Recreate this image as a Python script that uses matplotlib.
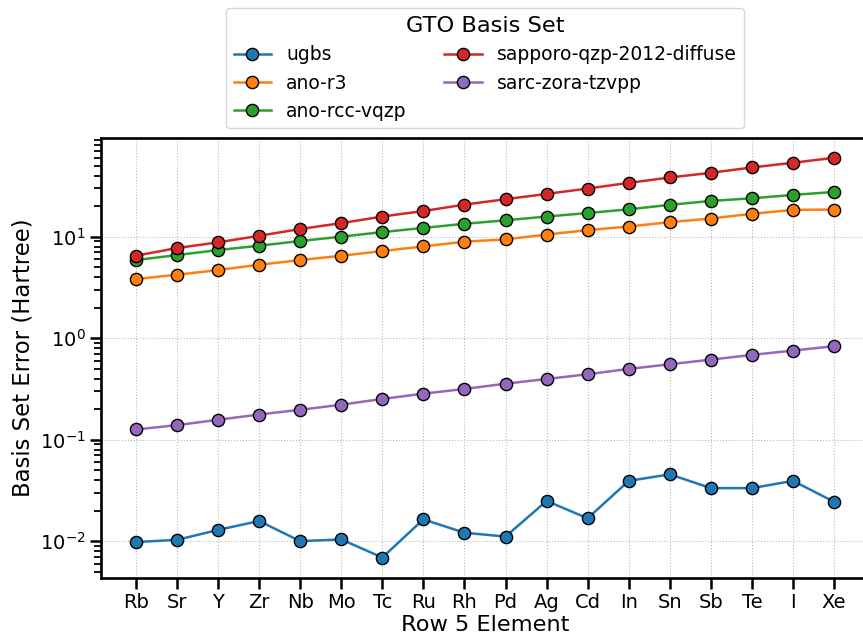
import numpy as np
import matplotlib
matplotlib.use("Agg")
import matplotlib.pyplot as plt

# ── data ──────────────────────────────────────────────────────
elements = ["Rb", "Sr", "Y", "Zr", "Nb", "Mo", "Tc", "Ru", "Rh",
            "Pd", "Ag", "Cd", "In", "Sn", "Sb", "Te", "I", "Xe"]

ugbs = [0.0098, 0.0103, 0.0129, 0.0158, 0.0100, 0.0104, 0.0069, 0.0164, 0.0121,
        0.0111, 0.0249, 0.0168, 0.0393, 0.0455, 0.0333, 0.0333, 0.0393, 0.0244]
ano_r3 = [3.82, 4.22, 4.69, 5.29, 5.88, 6.49, 7.22, 8.02, 8.93,
          9.41, 10.5, 11.6, 12.6, 13.9, 15.1, 16.8, 18.4, 18.5]
ano_rcc_vqzp = [5.88, 6.59, 7.38, 8.15, 9.06, 10.0, 11.1, 12.2, 13.4,
                14.5, 15.8, 17.1, 18.6, 20.6, 22.5, 23.9, 25.8, 27.6]
sapporo = [6.49, 7.73, 8.80, 10.2, 11.9, 13.6, 15.8, 17.9, 20.7,
           23.4, 26.4, 29.8, 33.9, 38.3, 42.6, 48.1, 53.5, 59.9]
sarc_zora = [0.126, 0.139, 0.157, 0.177, 0.197, 0.221, 0.252, 0.284, 0.316,
             0.356, 0.396, 0.441, 0.498, 0.553, 0.615, 0.684, 0.755, 0.834]

series_names = ["ugbs", "ano-r3", "ano-rcc-vqzp",
                "sapporo-qzp-2012-diffuse", "sarc-zora-tzvpp"]
series_vals = [ugbs, ano_r3, ano_rcc_vqzp, sapporo, sarc_zora]
colors = ["#1f77b4", "#ff7f0e", "#2ca02c", "#d62728", "#9467bd"]

# ── figure ────────────────────────────────────────────────────
fig = plt.figure(figsize=(8.63, 6.37), dpi=100)
ax = fig.add_axes([101 / 863, 1 - 577.5 / 637, (869 - 101) / 863, (577.5 - 137.8) / 637])

x = np.arange(len(elements))
for name, vals, c in zip(series_names, series_vals, colors):
    ax.plot(x, vals, "-o", color=c, lw=1.8, ms=8.8,
            markeredgecolor="black", markeredgewidth=1.0, label=name)

ax.set_yscale("log")
ax.set_xticks(x)
ax.set_xticklabels(elements)
ax.grid(True, which="major", linestyle=":", color="#bbbbbb", linewidth=0.8)

ax.set_xlabel("Row 5 Element", fontsize=16.2, labelpad=2)
ax.set_ylabel("Basis Set Error (Hartree)", fontsize=16.4)

ax.tick_params(axis="both", which="major", labelsize=14, length=7.7, width=1.8)
ax.tick_params(axis="y", which="minor", length=4.8, width=1.3)
for spine in ax.spines.values():
    spine.set_linewidth(1.9)

leg = ax.legend(title="GTO Basis Set", ncol=2, loc="lower center",
                bbox_to_anchor=(0.5, 1.0), fontsize=13.5, title_fontsize=16.2)

fig.savefig("out.png", dpi=100)
